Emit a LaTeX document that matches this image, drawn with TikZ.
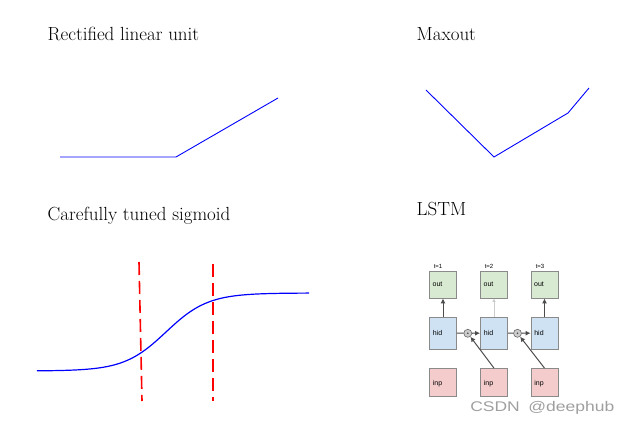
\documentclass[tikz,border=0pt]{standalone}
\usepackage{fontspec}
\newfontfamily\wmfont{Liberation Sans}
\newfontfamily\boxfont{Liberation Sans}
\usetikzlibrary{arrows.meta}
\definecolor{outfill}{HTML}{D9EAD3}
\definecolor{hidfill}{HTML}{CFE2F3}
\definecolor{inpfill}{HTML}{F4CCCC}
\definecolor{boxedge}{HTML}{8A8A8A}
\tikzset{
  title/.style={anchor=base west, inner sep=0pt, font=\fontsize{19}{23}\selectfont},
  curve/.style={blue, line width=1.2pt},
  reddash/.style={red, line width=1.6pt, dash pattern=on 13pt off 6pt},
  cellbox/.style={draw=boxedge, line width=0.8pt, minimum width=27pt, inner sep=0pt,
    font=\boxfont\fontsize{7}{8}\selectfont, text depth=0pt},
  outbox/.style={cellbox, fill=outfill, minimum height=27pt},
  hidbox/.style={cellbox, fill=hidfill, minimum height=32pt},
  inpbox/.style={cellbox, fill=inpfill, minimum height=28pt},
  mult/.style={circle, draw=gray!80!black, fill=gray!40, minimum size=8pt, inner sep=0pt, line width=0.6pt},
  tlab/.style={inner sep=0pt, font=\boxfont\fontsize{6}{7}\selectfont},
  darr/.style={draw=black!70, line width=1pt, -{Latex[length=5pt,width=5pt]}},
  dline/.style={draw=black!70, line width=1pt},
}
\begin{document}
\begin{tikzpicture}[x=1pt,y=-1pt]
\useasboundingbox (0,0) rectangle (632,425);
% titles
\node[title] (t1) at (47.5,40.7) {Rectified linear unit};
\node[title] (t2) at (416.5,40.7) {Maxout};
\node[title] (t3) at (47.5,220.7) {Carefully tuned sigmoid};
\node[title] (t4) at (416.5,215.7) {LSTM};
% ReLU
\draw[blue, line width=0.9pt] (60,157) -- (176,157) -- (278,98);
% Maxout
\draw[blue, line width=0.9pt] (426,90) -- (494,157) -- (568,113) -- (589,88);
% sigmoid
\draw[curve, domain=37:309, samples=120, smooth] plot (\x, {371 - 78/(1+exp(-(\x-166)/21))});
\draw[reddash] (139,262) -- (142,401);
\draw[reddash] (213,264) -- (213,401);
% LSTM cells
\node[outbox] (o1) at (443,284.5) {\hspace*{-11pt}out};
\node[outbox] (o2) at (494,284.5) {\hspace*{-11pt}out};
\node[outbox] (o3) at (544.5,284.5) {\hspace*{-11pt}out};
\node[hidbox] (h1) at (443,333) {\hspace*{-11pt}hid};
\node[hidbox] (h2) at (494,333) {\hspace*{-11pt}hid};
\node[hidbox] (h3) at (544.5,333) {\hspace*{-11pt}hid};
\node[inpbox] (i1) at (443,382.5) {\hspace*{-11pt}inp};
\node[inpbox] (i2) at (494,382.5) {\hspace*{-11pt}inp};
\node[inpbox] (i3) at (544.5,382.5) {\hspace*{-11pt}inp};
\node[tlab, anchor=south] (l1) at (438,268.5) {t=1};
\node[tlab, anchor=south] (l2) at (489,268.5) {t=2};
\node[tlab, anchor=south] (l3) at (540,268.5) {t=3};
\node[mult] (m1) at (467.8,333.3) {};
\node[mult] (m2) at (517.5,333.3) {};
\fill[black!70] (m1) circle (0.9pt);
\fill[black!70] (m2) circle (0.9pt);
% connectors
\draw[darr] (h1) -- (o1);
\draw[draw=black!20, line width=0.9pt, -{Latex[length=3.5pt,width=3.5pt]}] (h2) -- (o2);
\draw[darr] (h3) -- (o3);
\draw[dline] (h1) -- (m1);
\draw[dline] (h2) -- (m2);
\draw[darr] (m1) -- (h2);
\draw[darr] (m2) -- (h3);
\draw[darr] (i2.north) -- (m1);
\draw[darr] (i3.north) -- (m2);
% watermark
\node[anchor=base west, inner sep=0pt, text=gray!75, font=\wmfont\fontsize{14}{16}\selectfont, xscale=1.25] (wm) at (470,411.5) {CSDN\hspace{3pt} @deephub};
\end{tikzpicture}
\end{document}
